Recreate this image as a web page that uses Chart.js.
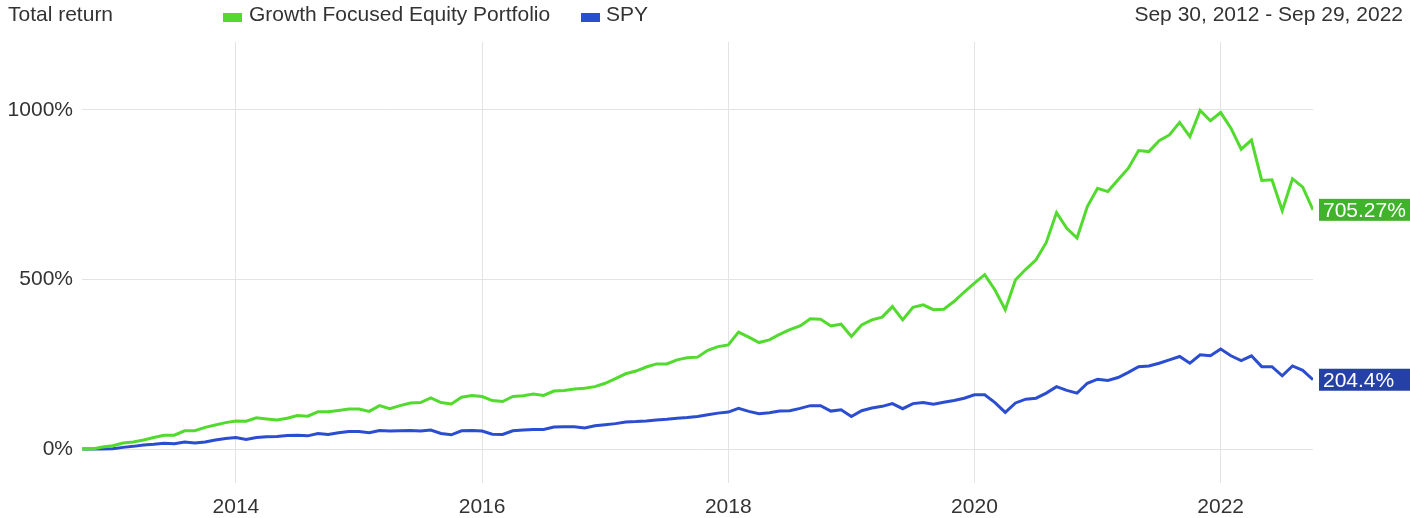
<!DOCTYPE html>
<html>
<head>
<meta charset="utf-8">
<script src="https://cdn.jsdelivr.net/npm/chart.js@4.4.1/dist/chart.umd.min.js"></script>
<style>
  html, body { margin: 0; padding: 0; background: #ffffff; }
  #wrap { position: relative; width: 1410px; height: 518px; overflow: hidden; font-family: "Liberation Sans", Arial, sans-serif; }
  canvas { position: absolute; left: 0; top: 0; }
  .hdr { position: absolute; font-size: 21px; line-height: 21px; color: #333333; white-space: nowrap; }
  .box { position: absolute; width: 19px; height: 9px; }
</style>
</head>
<body>
<div id="wrap">
  <canvas id="c" width="1410" height="518"></canvas>
  <div class="hdr" id="title" style="left:8px; top:3px;">Total return</div>
  <div class="box" id="box0" style="left:223px; top:13px;"></div>
  <div class="hdr" id="leg0" style="left:249px; top:3px;"></div>
  <div class="box" id="box1" style="left:581px; top:13px;"></div>
  <div class="hdr" id="leg1" style="left:606px; top:3px;"></div>
  <div class="hdr" id="range" style="right:7px; top:3px;">Sep 30, 2012 - Sep 29, 2022</div>
</div>
<script>
// ---- data ----
const months = [
  "2012-09","2012-10","2012-11","2012-12",
  "2013-01","2013-02","2013-03","2013-04","2013-05","2013-06","2013-07","2013-08","2013-09","2013-10","2013-11","2013-12",
  "2014-01","2014-02","2014-03","2014-04","2014-05","2014-06","2014-07","2014-08","2014-09","2014-10","2014-11","2014-12",
  "2015-01","2015-02","2015-03","2015-04","2015-05","2015-06","2015-07","2015-08","2015-09","2015-10","2015-11","2015-12",
  "2016-01","2016-02","2016-03","2016-04","2016-05","2016-06","2016-07","2016-08","2016-09","2016-10","2016-11","2016-12",
  "2017-01","2017-02","2017-03","2017-04","2017-05","2017-06","2017-07","2017-08","2017-09","2017-10","2017-11","2017-12",
  "2018-01","2018-02","2018-03","2018-04","2018-05","2018-06","2018-07","2018-08","2018-09","2018-10","2018-11","2018-12",
  "2019-01","2019-02","2019-03","2019-04","2019-05","2019-06","2019-07","2019-08","2019-09","2019-10","2019-11","2019-12",
  "2020-01","2020-02","2020-03","2020-04","2020-05","2020-06","2020-07","2020-08","2020-09","2020-10","2020-11","2020-12",
  "2021-01","2021-02","2021-03","2021-04","2021-05","2021-06","2021-07","2021-08","2021-09","2021-10","2021-11","2021-12",
  "2022-01","2022-02","2022-03","2022-04","2022-05","2022-06","2022-07","2022-08","2022-09"
];
const growthName = "Growth Focused Equity Portfolio";
const growth = [
  0,0,6,10,
  18,21,27,34,41,41,54,54,64,71,78,83,
  82,92,89,86,91,99,97,110,110,114,118,118,
  111,128,119,128,136,137,151,137,133,153,158,155,
  143,140,155,157,162,158,171,173,177,179,184,194,
  208,222,230,242,251,251,263,269,271,291,302,307,
  345,330,314,322,338,352,363,384,383,363,368,332,
  366,381,389,420,381,418,425,411,412,435,463,489,
  514,469,411,499,530,558,609,697,651,622,715,769,
  759,794,828,880,877,909,926,963,921,998,968,992,
  946,884,911,792,794,703,797,772,705.27
];
const spyName = "SPY";
const spy = [
  0,0,0,1,
  5,8,12,14,17,16,21,18,21,27,31,34,
  28,34,36,37,40,41,39,46,43,48,52,52,
  48,55,53,54,55,53,56,46,42,54,55,53,
  44,43,54,56,58,58,65,66,66,62,69,72,
  75,80,81,83,86,88,91,93,96,101,106,109,
  120,111,104,107,112,113,120,128,128,112,116,96,
  113,121,126,134,119,134,137,132,138,143,150,160,
  160,137,108,136,147,150,165,184,173,165,194,206,
  202,211,226,243,245,253,263,273,253,278,275,295,
  275,261,275,243,243,216,245,232,204.4
];
const xTickYears = [2014, 2016, 2018, 2020, 2022];
const yTickValues = [0, 500, 1000];
const endLabels = ["705.27%", "204.4%"];

// ---- styling ----
const growthColor = "#52da2f";
const spyColor = "#2b4dcf";
const growthTag = "#3fb42a";
const spyTag = "#2541a6";
const gridColor = "#e3e3e3";
const textColor = "#333333";
const FONT = '"Liberation Sans", Arial, sans-serif';

// month-end as fractional year
function monthEnd(m) {
  const [y, mo] = m.split("-").map(Number);
  return y + mo / 12;
}
const xs = months.map(monthEnd);

document.getElementById("leg0").textContent = growthName;
document.getElementById("leg1").textContent = spyName;
document.getElementById("box0").style.background = growthColor;
document.getElementById("box1").style.background = spyColor;

const endTagPlugin = {
  id: "endTags",
  afterDatasetsDraw(chart) {
    const ctx = chart.ctx;
    const area = chart.chartArea;
    const yScale = chart.scales.y;
    const tags = [growthTag, spyTag];
    chart.data.datasets.forEach((ds, i) => {
      const last = ds.data[ds.data.length - 1];
      const py = yScale.getPixelForValue(last.y);
      const x0 = area.right + 6;
      ctx.save();
      ctx.fillStyle = tags[i];
      ctx.fillRect(x0, py - 11, chart.width - x0, 22);
      ctx.fillStyle = "#ffffff";
      ctx.font = "21px " + FONT;
      ctx.textBaseline = "middle";
      ctx.textAlign = "left";
      ctx.fillText(endLabels[i], x0 + 4, py + 1);
      ctx.restore();
    });
  }
};

new Chart(document.getElementById("c"), {
  type: "line",
  data: {
    datasets: [
      {
        label: growthName,
        data: xs.map((x, i) => ({ x: x, y: growth[i] })),
        borderColor: growthColor,
        backgroundColor: growthColor,
        borderWidth: 3,
        pointRadius: 0,
        tension: 0,
        fill: false
      },
      {
        label: spyName,
        data: xs.map((x, i) => ({ x: x, y: spy[i] })),
        borderColor: spyColor,
        backgroundColor: spyColor,
        borderWidth: 3,
        pointRadius: 0,
        tension: 0,
        fill: false
      }
    ]
  },
  options: {
    responsive: false,
    animation: false,
    devicePixelRatio: 1,
    layout: { padding: { top: 42, right: 97, left: 0, bottom: 0 } },
    plugins: { legend: { display: false }, tooltip: { enabled: false } },
    scales: {
      x: {
        type: "linear",
        min: xs[0],
        max: xs[xs.length - 1],
        afterBuildTicks: (s) => { s.ticks = xTickYears.map(v => ({ value: v })); },
        afterFit: (s) => { s.height = 35; },
        grid: { color: gridColor, lineWidth: 1, drawTicks: false },
        border: { display: false },
        ticks: {
          color: textColor,
          font: { size: 21, family: FONT },
          padding: 12,
          maxRotation: 0,
          autoSkip: false,
          callback: (v) => String(v)
        }
      },
      y: {
        type: "linear",
        min: -100,
        max: 1200,
        afterBuildTicks: (s) => { s.ticks = yTickValues.map(v => ({ value: v })); },
        afterFit: (s) => { s.width = 82; },
        grid: { color: gridColor, lineWidth: 1, drawTicks: false },
        border: { display: false },
        ticks: {
          color: textColor,
          font: { size: 21, family: FONT },
          padding: 9,
          callback: (v) => v + "%"
        }
      }
    }
  },
  plugins: [endTagPlugin]
});
</script>
</body>
</html>
